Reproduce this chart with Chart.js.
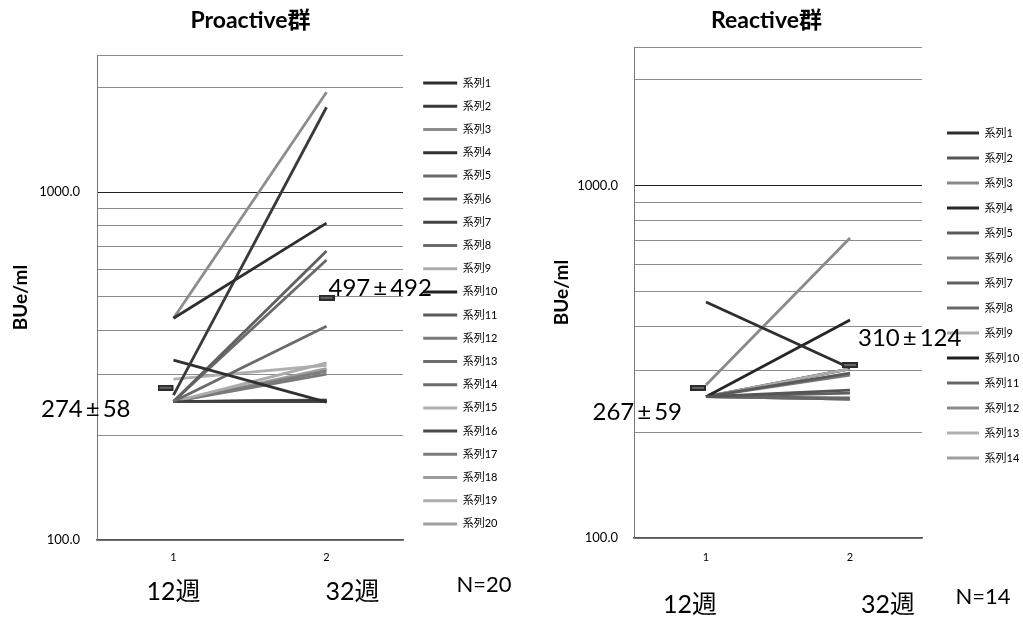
<!DOCTYPE html>
<html>
<head>
<meta charset="utf-8">
<script src="https://cdn.jsdelivr.net/npm/chart.js@4.4.1/dist/chart.umd.min.js"></script>
<style>
  html, body { margin: 0; padding: 0; background: #fff; }
  #wrap { position: relative; width: 1023px; height: 620px; }
  #proactive { position: absolute; left: 0; top: 0; }
  #reactive { position: absolute; left: 510px; top: 0; }
</style>
</head>
<body>
<div id="wrap">
  <canvas id="proactive" width="530" height="620"></canvas>
  <canvas id="reactive" width="513" height="620"></canvas>
</div>
<script>
var weekCategories = ['1', '2'];
var weekLabels = ['12週', '32週'];
var yTickValues = [100, 200, 300, 400, 500, 600, 700, 800, 900, 1000, 2000, 2480];
var yLabeledTicks = [100, 1000];
var yMin = 100;
var yMax = 2480;

// Proactive群 (12週 -> 32週)
var proStart = [434, 261, 434, 329, 250, 250, 250, 250, 250, 250, 250, 250, 250, 250, 290, 250, 250, 250, 250, 250];
var proEnd   = [815, 1755, 1937, 249, 412, 677, 250, 638, 323, 251, 252, 300, 252, 253, 318, 250, 306, 311, 252, 250];
var proMean = [274, 497];
var proSd = [58, 492];
var proColors = ['#2e2e2e', '#3a3a3a', '#8c8c8c', '#303030', '#6a6a6a', '#606060', '#444444', '#6a6a6a',
                 '#ababab', '#222222', '#5a5a5a', '#7a7a7a', '#6c6c6c', '#6c6c6c', '#b0b0b0', '#484848',
                 '#7c7c7c', '#9c9c9c', '#adadad', '#a0a0a0'];

// Reactive群 (12週 -> 32週)
var reStart = [468, 252, 272, 252, 252, 252, 252, 252, 252, 252, 252, 252, 252, 252];
var reEnd   = [304, 263, 711, 416, 294, 290, 258, 250, 302, 302, 248, 248, 248, 248];
var reMean = [267, 310];
var reSd = [59, 124];
var reColors = ['#2e2e2e', '#555555', '#8a8a8a', '#262626', '#5a5a5a', '#7a7a7a', '#606060', '#686868',
                '#acacac', '#202020', '#666666', '#8a8a8a', '#b0b0b0', '#9e9e9e'];

Chart.defaults.font.family = 'Lato, "Noto Sans CJK JP", sans-serif';
Chart.defaults.color = '#000';

function makeMarker(shiftLeft) {
    var c = document.createElement('canvas');
    c.width = shiftLeft ? 32 : 16;
    c.height = 6;
    var g = c.getContext('2d');
    g.fillStyle = '#2b2b2b';
    g.fillRect(0, 0, 16, 6);
    g.fillStyle = '#666';
    g.fillRect(2, 2, 12, 2);
    return c;
}
var markFirst = makeMarker(true);
var markOther = makeMarker(false);

function buildSeries(starts, ends, colors) {
    return starts.map(function (s, i) {
        return {
            label: '系列' + (i + 1),
            data: [s, ends[i]],
            borderColor: colors[i],
            backgroundColor: colors[i],
            borderWidth: 2.8,
            pointRadius: 0,
            tension: 0
        };
    });
}

// "274±58" style text, with a little room round the ± sign
function drawMeanText(ctx, a, b, x, y, alignRight) {
    var gap = 3;
    var wa = ctx.measureText(a).width;
    var wp = ctx.measureText('±').width;
    var wb = ctx.measureText(b).width;
    var total = wa + gap + wp + gap + wb;
    var sx = alignRight ? x - total : x;
    ctx.textAlign = 'left';
    ctx.fillText(a, sx, y);
    ctx.fillText('±', sx + wa + gap, y);
    ctx.fillText(b, sx + wa + gap + wp + gap, y);
}

var notesPlugin = {
    id: 'notes',
    afterDraw: function (chart, args, opts) {
        var ctx = chart.ctx;
        var xs = chart.scales.x;
        var ys = chart.scales.y;
        ctx.save();
        ctx.fillStyle = '#000';
        ctx.textBaseline = 'middle';

        ctx.font = '24px Lato, "Noto Sans CJK JP"';
        opts.mean.forEach(function (m, i) {
            var off = opts.meanOffsets[i];
            drawMeanText(ctx, String(m), String(opts.sd[i]),
                xs.getPixelForValue(i) + off[0], ys.getPixelForValue(m) + off[1], i === 0);
        });

        ctx.font = '25px Lato, "Noto Sans CJK JP"';
        ctx.textAlign = 'center';
        weekLabels.forEach(function (w, i) {
            ctx.fillText(w, xs.getPixelForValue(i) + opts.weekDx[i], opts.weekY);
        });

        ctx.font = '22px Lato, "Noto Sans CJK JP"';
        ctx.fillText('N=' + opts.n, opts.nPos[0], opts.nPos[1]);
        ctx.restore();
    }
};

function makeChart(id, cfg) {
    var series = buildSeries(cfg.starts, cfg.ends, cfg.colors);
    series.push({
        label: 'mean',
        data: cfg.mean,
        showLine: false,
        pointStyle: function (c) { return c.dataIndex === 0 ? markFirst : markOther; },
        pointRadius: 4,
        order: -1
    });

    return new Chart(document.getElementById(id), {
        type: 'line',
        data: { labels: weekCategories, datasets: series },
        options: {
            responsive: false,
            animation: false,
            layout: { padding: { left: 0, right: cfg.padRight, top: 0, bottom: cfg.padBottom } },
            plugins: {
                tooltip: { enabled: false },
                title: {
                    display: true,
                    text: cfg.title,
                    color: '#000',
                    font: { size: 23, weight: 'bold' },
                    padding: { top: 7.2, bottom: cfg.titleGap }
                },
                legend: {
                    position: 'right',
                    align: 'center',
                    maxWidth: cfg.legendWidth,
                    labels: {
                        boxWidth: cfg.boxWidth,
                        boxHeight: 3,
                        padding: cfg.legendPad,
                        color: '#000',
                        font: { size: 11 },
                        filter: function (item) { return item.datasetIndex < cfg.starts.length; },
                        generateLabels: function (chart) {
                            return Chart.defaults.plugins.legend.labels.generateLabels(chart).map(function (l) {
                                l.lineWidth = 0;
                                return l;
                            });
                        }
                    }
                },
                notes: {
                    mean: cfg.mean,
                    sd: cfg.sd,
                    meanOffsets: cfg.meanOffsets,
                    weekDx: cfg.weekDx,
                    weekY: cfg.weekY,
                    n: cfg.starts.length,
                    nPos: cfg.nPos
                }
            },
            scales: {
                x: {
                    type: 'category',
                    offset: true,
                    afterFit: function (scale) { scale.height = cfg.xHeight; },
                    grid: { display: false, drawTicks: false },
                    border: { display: true, color: '#555', width: 1.5 },
                    ticks: { padding: cfg.xTickPad, color: '#000', font: { size: 11 } }
                },
                y: {
                    type: 'logarithmic',
                    min: yMin,
                    max: yMax,
                    afterBuildTicks: function (scale) {
                        scale.ticks = yTickValues.map(function (v) { return { value: v }; });
                    },
                    afterFit: function (scale) { scale.width = cfg.yWidth; },
                    grid: {
                        drawTicks: false,
                        lineWidth: 1,
                        color: function (c) { return c.tick && c.tick.value === 1000 ? '#222' : '#8c8c8c'; }
                    },
                    border: { display: true, color: '#777' },
                    ticks: {
                        autoSkip: false,
                        padding: cfg.tickPad,
                        color: '#000',
                        font: { size: 13 },
                        callback: function (v) { return yLabeledTicks.indexOf(v) >= 0 ? v.toFixed(1) : ''; }
                    },
                    title: {
                        display: true,
                        text: 'BUe/ml',
                        color: '#000',
                        font: { size: 19, weight: 'bold' },
                        padding: { top: cfg.titlePad, bottom: 0 }
                    }
                },
                gap: {
                    type: 'linear',
                    position: 'right',
                    display: true,
                    grid: { display: false, drawTicks: false },
                    border: { display: false },
                    ticks: { display: false },
                    afterFit: function (scale) { scale.width = cfg.gap; }
                }
            }
        },
        plugins: [notesPlugin]
    });
}

makeChart('proactive', {
    starts: proStart, ends: proEnd, colors: proColors, mean: proMean, sd: proSd,
    title: 'Proactive群', titleGap: 20.2,
    padBottom: 13, xHeight: 67, xTickPad: 11,
    padRight: 29, yWidth: 97, tickPad: 17, titlePad: 9,
    gap: 8, legendWidth: 90, legendPad: 12.2, boxWidth: 34,
    meanOffsets: [[-43, 22], [2, -10]],
    weekDx: [0, 26], weekY: 592,
    nPos: [484, 585]
});

makeChart('reactive', {
    starts: reStart, ends: reEnd, colors: reColors, mean: reMean, sd: reSd,
    title: 'Reactive群', titleGap: 12.2,
    padBottom: 29, xHeight: 53, xTickPad: 13,
    padRight: 0, yWidth: 124, tickPad: 16, titlePad: 40.6,
    gap: 11, legendWidth: 90, legendPad: 14, boxWidth: 32,
    meanOffsets: [[-24, 24], [8, -27]],
    weekDx: [-16, 38], weekY: 605,
    nPos: [473, 597]
});
</script>
</body>
</html>
